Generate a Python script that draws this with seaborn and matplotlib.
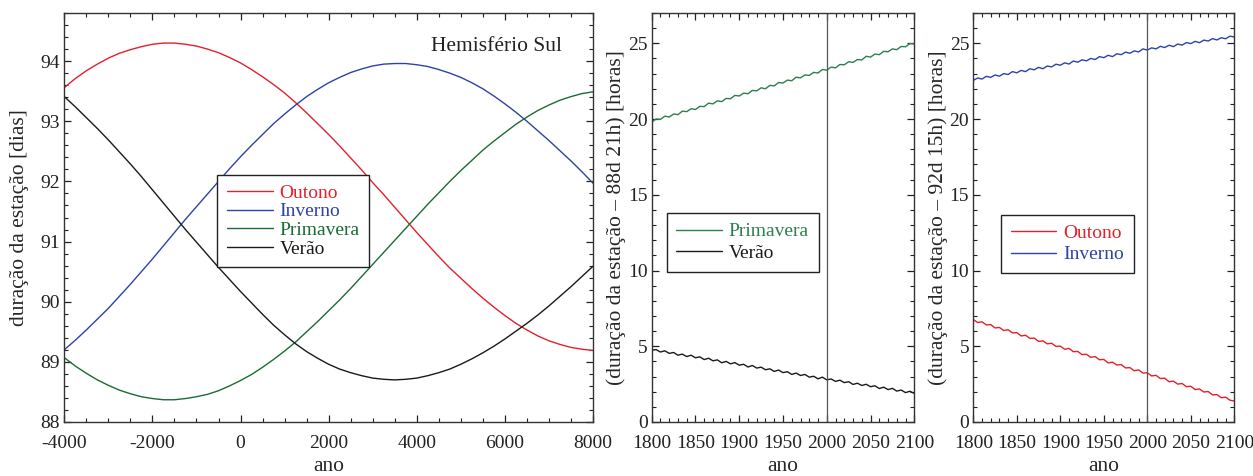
import numpy as np
import pandas as pd
import seaborn as sns
import matplotlib.pyplot as plt
import matplotlib.ticker as mtick

# left panel: season length [days], every 250 years
anos_longo = list(range(-4000, 8001, 250))
outono_dias = [93.56, 93.71, 93.84, 93.95, 94.05, 94.13, 94.19, 94.24, 94.28,
               94.30, 94.30, 94.28, 94.25, 94.20, 94.14, 94.06, 93.97, 93.86,
               93.74, 93.61, 93.47, 93.31, 93.14, 92.96, 92.78, 92.59, 92.39,
               92.19, 91.98, 91.78, 91.57, 91.36, 91.15, 90.95, 90.75, 90.56,
               90.39, 90.22, 90.06, 89.91, 89.77, 89.64, 89.53, 89.43, 89.35,
               89.29, 89.24, 89.21, 89.19]
inverno_dias = [89.20, 89.36, 89.53, 89.71, 89.89, 90.09, 90.29, 90.50, 90.71,
                90.93, 91.15, 91.37, 91.58, 91.79, 92.00, 92.21, 92.41, 92.60,
                92.78, 92.96, 93.12, 93.27, 93.41, 93.53, 93.64, 93.73, 93.81,
                93.87, 93.92, 93.95, 93.96, 93.96, 93.94, 93.91, 93.86, 93.80,
                93.73, 93.64, 93.54, 93.42, 93.29, 93.15, 93.00, 92.84, 92.68,
                92.51, 92.34, 92.16, 91.97]
primavera_dias = [89.07, 88.93, 88.81, 88.70, 88.61, 88.53, 88.47, 88.42, 88.39,
                  88.37, 88.37, 88.39, 88.42, 88.46, 88.52, 88.60, 88.69, 88.79,
                  88.91, 89.04, 89.18, 89.33, 89.50, 89.67, 89.85, 90.03, 90.22,
                  90.42, 90.62, 90.82, 91.02, 91.22, 91.42, 91.62, 91.81, 92.00,
                  92.18, 92.35, 92.52, 92.67, 92.81, 92.95, 93.07, 93.18, 93.27,
                  93.35, 93.41, 93.46, 93.49]
verao_dias = [93.41, 93.24, 93.06, 92.88, 92.69, 92.49, 92.29, 92.08, 91.86,
              91.64, 91.42, 91.20, 90.99, 90.78, 90.57, 90.37, 90.17, 89.98,
              89.79, 89.61, 89.45, 89.30, 89.17, 89.06, 88.96, 88.88, 88.82,
              88.77, 88.73, 88.71, 88.70, 88.71, 88.73, 88.77, 88.82, 88.88,
              88.96, 89.05, 89.15, 89.26, 89.38, 89.51, 89.64, 89.78, 89.93,
              90.09, 90.25, 90.42, 90.59]

# middle / right panels: (length - offset) [hours], every 5 years
anos_curto = list(range(1800, 2101, 5))
primavera_h = [19.80, 20.00, 19.98, 20.19, 20.13, 20.33, 20.29, 20.52, 20.49,
               20.68, 20.63, 20.84, 20.82, 21.05, 21.00, 21.20, 21.15, 21.36,
               21.34, 21.56, 21.52, 21.71, 21.67, 21.89, 21.86, 22.06, 22.00,
               22.22, 22.19, 22.41, 22.38, 22.57, 22.53, 22.76, 22.72, 22.91,
               22.88, 23.08, 23.04, 23.27, 23.23, 23.43, 23.38, 23.60, 23.58,
               23.78, 23.74, 23.93, 23.90, 24.14, 24.09, 24.29, 24.25, 24.47,
               24.44, 24.63, 24.58, 24.79, 24.77, 24.98, 24.96]
verao_h = [4.74, 4.78, 4.62, 4.70, 4.53, 4.59, 4.41, 4.48, 4.32, 4.41, 4.24,
           4.30, 4.12, 4.21, 4.04, 4.10, 3.91, 4.00, 3.84, 3.92, 3.75, 3.81,
           3.63, 3.73, 3.56, 3.62, 3.45, 3.51, 3.34, 3.43, 3.26, 3.32, 3.14,
           3.23, 3.07, 3.14, 2.96, 3.02, 2.85, 2.96, 2.78, 2.84, 2.68, 2.76,
           2.60, 2.66, 2.48, 2.56, 2.41, 2.49, 2.33, 2.39, 2.21, 2.30, 2.14,
           2.22, 2.04, 2.11, 1.94, 2.03, 1.89]
outono_h = [6.76, 6.57, 6.61, 6.41, 6.43, 6.21, 6.24, 6.04, 6.09, 5.88, 5.90,
            5.68, 5.73, 5.52, 5.54, 5.32, 5.36, 5.16, 5.20, 4.99, 5.01, 4.80,
            4.86, 4.64, 4.66, 4.45, 4.47, 4.27, 4.32, 4.11, 4.13, 3.90, 3.95,
            3.76, 3.79, 3.57, 3.59, 3.38, 3.44, 3.23, 3.25, 3.04, 3.08, 2.87,
            2.89, 2.66, 2.70, 2.50, 2.54, 2.33, 2.36, 2.14, 2.18, 1.98, 2.01,
            1.79, 1.81, 1.60, 1.64, 1.44, 1.38]
inverno_h = [22.55, 22.71, 22.64, 22.82, 22.75, 22.91, 22.83, 23.00, 22.94,
             23.13, 23.05, 23.21, 23.13, 23.32, 23.25, 23.41, 23.32, 23.50,
             23.44, 23.62, 23.55, 23.71, 23.63, 23.83, 23.75, 23.91, 23.84,
             24.00, 23.93, 24.12, 24.05, 24.21, 24.12, 24.31, 24.25, 24.42,
             24.34, 24.50, 24.43, 24.63, 24.55, 24.70, 24.63, 24.80, 24.72,
             24.87, 24.78, 24.95, 24.88, 25.05, 24.98, 25.13, 25.04, 25.21,
             25.15, 25.31, 25.22, 25.37, 25.30, 25.47, 25.42]

vermelho = '#e3202b'
azul = '#2d43a6'
verde_escuro = '#1b6b36'
verde = '#2e7f4e'
preto = '#1a1a1a'

sns.set_theme(style="ticks")
plt.rcParams['font.family'] = ['Liberation Serif', 'DejaVu Serif']
plt.rcParams['axes.unicode_minus'] = False
plt.rcParams['axes.linewidth'] = 1.0
plt.rcParams['axes.edgecolor'] = '#333333'


def estilo(ax, xmaj, xmin, ymaj, ymin):
    ax.xaxis.set_major_locator(mtick.MultipleLocator(xmaj))
    ax.xaxis.set_minor_locator(mtick.MultipleLocator(xmin))
    ax.yaxis.set_major_locator(mtick.MultipleLocator(ymaj))
    ax.yaxis.set_minor_locator(mtick.MultipleLocator(ymin))
    ax.tick_params(which='both', direction='in', top=True, right=True,
                   colors='#222222', labelcolor='#222222')
    ax.tick_params(which='major', length=5.2, width=0.9, labelsize=14)
    ax.tick_params(which='minor', length=2.9, width=0.8)
    ax.tick_params(axis='x', which='major', pad=9)
    ax.tick_params(axis='y', which='major', pad=3)
    for s in ax.spines.values():
        s.set_visible(True)


def linhas(ax, anos, series, cores, nomes):
    for y, c, n in zip(series, cores, nomes):
        sns.lineplot(x=anos, y=y, ax=ax, color=c, lw=1.0, label=n)


def legenda(ax, x, y, spacing):
    leg = ax.legend(loc='upper left', bbox_to_anchor=(x, y), borderaxespad=0,
                    fontsize=14, labelcolor='linecolor', frameon=True,
                    fancybox=False, framealpha=1, edgecolor='#222222',
                    handlelength=2.35, handletextpad=0.35, borderpad=0.5,
                    labelspacing=spacing)
    leg.get_frame().set_linewidth(1.0)


fig = plt.figure(figsize=(12.53, 4.76), dpi=100)
ax1 = fig.add_axes([64.3 / 1253, 54 / 476, 528.7 / 1253, 409 / 476])
ax2 = fig.add_axes([651.7 / 1253, 54 / 476, 262.6 / 1253, 409 / 476])
ax3 = fig.add_axes([973.3 / 1253, 54 / 476, 261 / 1253, 409 / 476])

linhas(ax1, anos_longo, [outono_dias, inverno_dias, primavera_dias, verao_dias],
       [vermelho, azul, verde_escuro, preto],
       ['Outono', 'Inverno', 'Primavera', 'Verão'])
ax1.set_xlim(-4000, 8000)
ax1.set_ylim(88, 94.8)
estilo(ax1, 2000, 500, 1, 0.2)
ax1.set_xlabel('ano', fontsize=15.5, labelpad=4)
ax1.set_ylabel('duração da estação [dias]', fontsize=15.5)
ax1.yaxis.set_label_coords(-0.066, 0.5)
ax1.text(0.694, 0.907, 'Hemisfério Sul', transform=ax1.transAxes,
         fontsize=15.5, va='baseline', color='#222222')
legenda(ax1, 0.289, 0.605, 0.05)

linhas(ax2, anos_curto, [primavera_h, verao_h], [verde, preto],
       ['Primavera', 'Verão'])
ax2.axvline(2000, color='#555555', lw=0.9)
ax2.set_xlim(1800, 2100)
ax2.set_ylim(0, 27)
estilo(ax2, 50, 10, 5, 1)
ax2.set_xlabel('ano', fontsize=15.5, labelpad=4)
ax2.set_ylabel('(duração da estação – 88d 21h) [horas]', fontsize=15.5)
ax2.yaxis.set_label_coords(-0.098, 0.5)
legenda(ax2, 0.057, 0.511, 0.2)

linhas(ax3, anos_curto, [outono_h, inverno_h], [vermelho, azul],
       ['Outono', 'Inverno'])
ax3.axvline(2000, color='#555555', lw=0.9)
ax3.set_xlim(1800, 2100)
ax3.set_ylim(0, 27)
estilo(ax3, 50, 10, 5, 1)
ax3.set_xlabel('ano', fontsize=15.5, labelpad=4)
ax3.set_ylabel('(duração da estação – 92d 15h) [horas]', fontsize=15.5)
ax3.yaxis.set_label_coords(-0.097, 0.5)
legenda(ax3, 0.106, 0.507, 0.2)

fig.savefig('out.png', dpi=100)
